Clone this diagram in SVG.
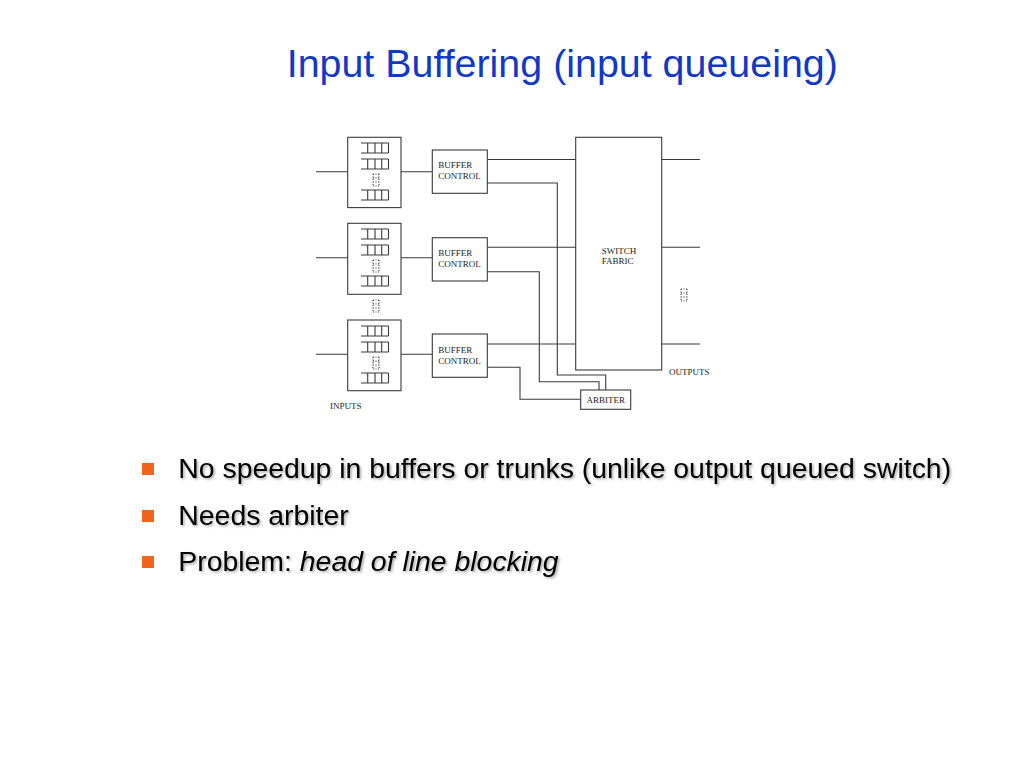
<svg xmlns="http://www.w3.org/2000/svg" width="1024" height="768" viewBox="0 0 1024 768">
  <style>
    .ln { fill: none; stroke: #3a3a3a; stroke-width: 1.1; }
    .box { fill: #ffffff; stroke: #3a3a3a; stroke-width: 1.1; }
    .lbl { font-family: "Liberation Serif", "Times New Roman", serif; font-size: 9px; fill: #222; }
    .title { font-family: "Liberation Sans", Arial, sans-serif; font-size: 39.4px; fill: #1238c6; }
    .bul { font-family: "Liberation Sans", Arial, sans-serif; font-size: 28.4px; fill: #000; filter: url(#sh); }
    .sq { fill: #f0641e; }
  </style>
  <defs>
    <filter id="sh" x="-5%" y="-20%" width="110%" height="150%">
      <feDropShadow dx="1.5" dy="1.5" stdDeviation="0.8" flood-color="#000" flood-opacity="0.35"/>
    </filter>
    <g id="q">
      <path class="ln" d="M0,0H27.5M0,10H27.5M6.7,0V10M14,0V10M20.7,0V10M27.5,0V10"/>
    </g>
    <g id="dots">
      <path class="ln" stroke-dasharray="1,1.5" d="M0,0V12M6,0V12M0,0H6M0,4H6M0,8H6M0,12H6"/>
    </g>
  </defs>
  <rect width="1024" height="768" fill="#fff"/>

  <text class="title" x="286.7" y="76.7">Input Buffering (input queueing)</text>

  <g id="connectors">
    <path class="ln" d="M316,171.7H347.7M316,257.7H347.7M316,354.3H347.7"/>
    <path class="ln" d="M401,171.7H432.3M401,257.7H432.3M401,354.3H432.3"/>
    <path class="ln" d="M487.3,159.5H575.7M487.3,247.3H575.7M487.3,344H575.7"/>
    <polyline class="ln" points="487.3,183 557.3,183 557.3,375 605.7,375 605.7,390"/>
    <polyline class="ln" points="487.3,271.7 539.3,271.7 539.3,381.7 599,381.7 599,390"/>
    <polyline class="ln" points="487.3,367.3 520,367.3 520,399.3 580.7,399.3"/>
    <path class="ln" d="M661.7,159.5H700M661.7,247.3H700M661.7,344H700"/>
  </g>

  <g id="queues1">
    <rect class="box" x="347.7" y="137.3" width="53.3" height="70.3"/>
    <use href="#q" x="361" y="143"/>
    <use href="#q" x="361" y="159"/>
    <use href="#dots" x="373" y="174"/>
    <use href="#q" x="361" y="190"/>
  </g>
  <g id="queues2">
    <rect class="box" x="347.7" y="223.3" width="53.3" height="71"/>
    <use href="#q" x="361" y="229"/>
    <use href="#q" x="361" y="245"/>
    <use href="#dots" x="373" y="260"/>
    <use href="#q" x="361" y="276"/>
  </g>
  <g id="queues-gap">
    <use href="#dots" x="373" y="300"/>
  </g>
  <g id="queues3">
    <rect class="box" x="347.7" y="320" width="53.3" height="70.7"/>
    <use href="#q" x="361" y="326"/>
    <use href="#q" x="361" y="342"/>
    <use href="#dots" x="373" y="357"/>
    <use href="#q" x="361" y="373"/>
  </g>

  <g id="bc1">
    <rect class="box" x="432.3" y="150" width="55" height="43.3"/>
    <text class="lbl" x="438.3" y="168.3">BUFFER</text>
    <text class="lbl" x="438.3" y="179">CONTROL</text>
  </g>
  <g id="bc2">
    <rect class="box" x="432.3" y="237.7" width="55" height="43.3"/>
    <text class="lbl" x="438.3" y="256">BUFFER</text>
    <text class="lbl" x="438.3" y="266.7">CONTROL</text>
  </g>
  <g id="bc3">
    <rect class="box" x="432.3" y="334" width="55" height="43.3"/>
    <text class="lbl" x="438.3" y="353">BUFFER</text>
    <text class="lbl" x="438.3" y="363.5">CONTROL</text>
  </g>

  <g id="fabric">
    <rect class="box" x="575.7" y="137.3" width="86" height="232.7"/>
    <text class="lbl" x="601.7" y="254">SWITCH</text>
    <text class="lbl" x="601.7" y="263.5">FABRIC</text>
  </g>

  <g id="arbiter">
    <rect class="box" x="580.7" y="390" width="50" height="19.3"/>
    <text class="lbl" x="605.7" y="403.3" text-anchor="middle">ARBITER</text>
  </g>

  <g id="outputs">
    <use href="#dots" x="681" y="289"/>
    <text class="lbl" x="669" y="374.5">OUTPUTS</text>
  </g>
  <g id="inputs">
    <text class="lbl" x="330" y="408.7">INPUTS</text>
  </g>

  <g id="bullets">
    <rect class="sq" x="142" y="463" width="12" height="12"/>
    <text class="bul" x="178.3" y="478.3">No speedup in buffers or trunks (unlike output queued switch)</text>
    <rect class="sq" x="142" y="510" width="12" height="12"/>
    <text class="bul" x="178.3" y="525">Needs arbiter</text>
    <rect class="sq" x="142" y="556" width="12" height="12"/>
    <text class="bul" x="178.3" y="571.3">Problem: <tspan font-style="italic">head of line blocking</tspan></text>
  </g>
</svg>
